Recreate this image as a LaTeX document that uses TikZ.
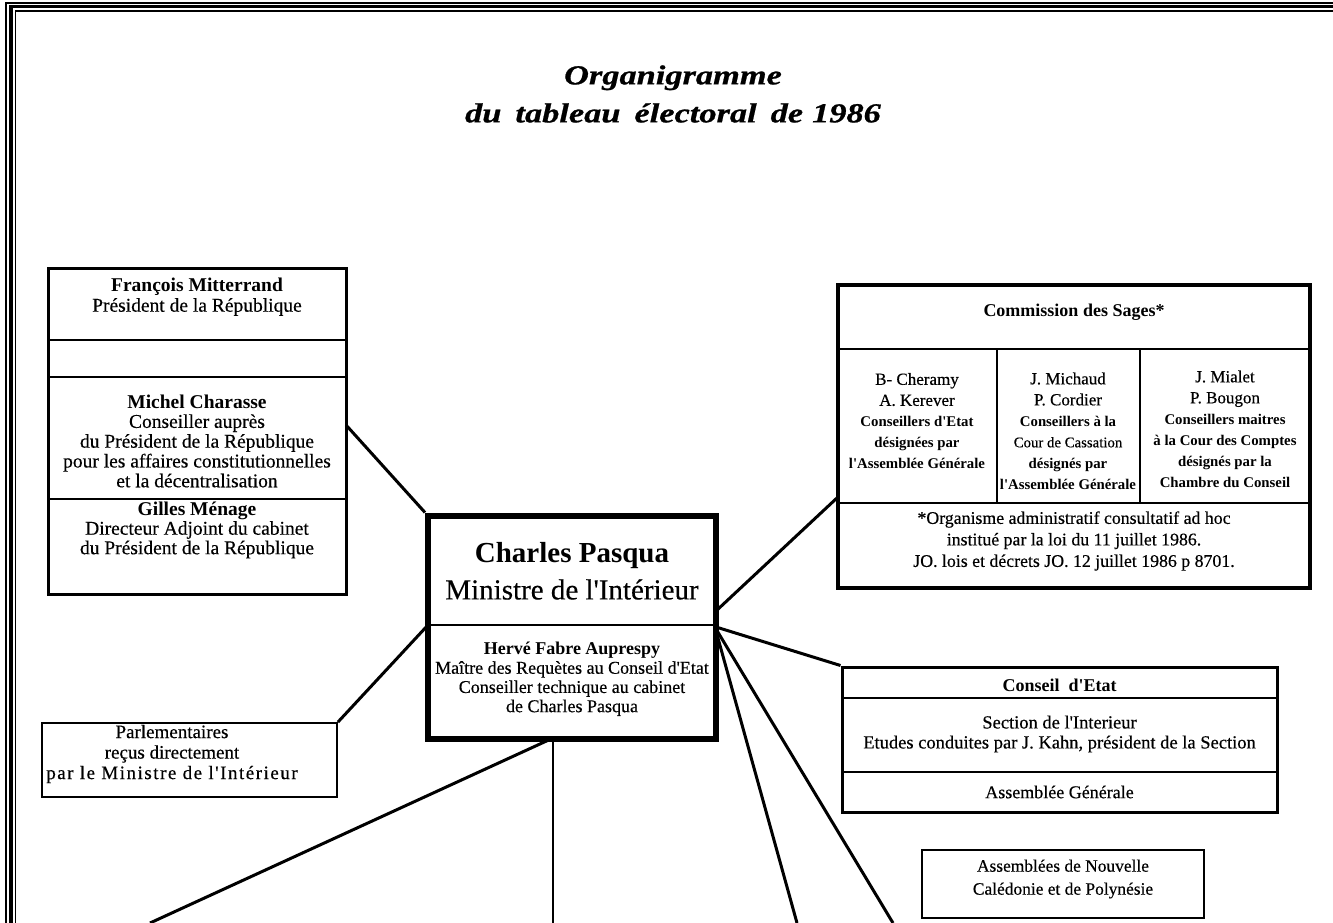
\documentclass[tikz,border=0pt]{standalone}
\usepackage{fontspec}
\setmainfont{Liberation Serif}
\newfontfamily\bodyfont{Liberation Serif}[UprightFeatures={FakeBold=0.4}]
\newfontfamily\titlefont{Liberation Serif}[FakeStretch=1.25,BoldItalicFeatures={FakeBold=0.8}]
\newcommand{\fs}[2]{\bodyfont\fontsize{#1}{#2}\selectfont}
\newcommand{\nmf}{\fs{17}{21}\mdseries}
\newcommand{\sbf}{\fs{14.8}{21}\bfseries}
\newcommand{\smf}{\fs{14.8}{21}\mdseries}
\begin{document}
\begin{tikzpicture}[x=1pt,y=-1pt,
  boxnode/.style={draw, inner sep=0, fill=none},
  div/.style={line width=2.2},
  con/.style={line width=3},
  t/.style={align=center, inner sep=0, font=\fs{18}{21}},
  tb/.style={align=center, inner sep=0, font=\fs{18}{21}\bfseries},
]
\useasboundingbox (0,0) rectangle (1333,923);
\clip (0,0) rectangle (1333,923);
% frame
\draw[line width=1.2] (6,3) rectangle (1360,950);
\draw[line width=3.5] (11,6.5) rectangle (1360,950);
\draw[line width=1.2] (15.5,11) rectangle (1360,950);

% title
\node[align=center, inner sep=0, font=\titlefont\fontsize{27.5}{38}\selectfont\bfseries\itshape] (title) at (673,94)
  {Organigramme\\du\hspace{14pt}tableau\hspace{14pt}électoral\hspace{14pt}de\hspace{9pt}1986};

% left box
\node[boxnode, line width=3, minimum width=298, minimum height=326] (lbox) at (197,431) {};
\draw[div] (48,340) -- (346,340);
\draw[div] (48,377) -- (346,377);
\draw[div] (48,499) -- (346,499);
\node[t, font=\fs{19.5}{20}] (mitt) at (197,297) {\textbf{François Mitterrand}\\Président de la République};
\node[t, font=\fs{19.5}{19.8}] (chara) at (197,441) {\textbf{Michel Charasse}\\Conseiller auprès\\du Président de la République\\pour les affaires constitutionnelles\\et la décentralisation};
\node[t, font=\fs{19.5}{19.5}] (gill) at (197,530) {\textbf{Gilles Ménage}\\Directeur Adjoint du cabinet\\du Président de la République};

% center box
\node[boxnode, line width=6, minimum width=288, minimum height=223] (cbox) at (572,627) {};
\draw[div] (428,625) -- (716,625);
\node[align=center, inner sep=0, font=\fs{29}{37}] (cp) at (572,571) {\textbf{Charles Pasqua}\\Ministre de l'Intérieur};
\node[t, font=\fs{18}{19.2}] (hf) at (572,679) {\textbf{Hervé Fabre Auprespy}\\Maître des Requètes au Conseil d'Etat\\Conseiller technique au cabinet\\de Charles Pasqua};

% commission box
\node[boxnode, line width=4, minimum width=472, minimum height=303] (com) at (1074,436.5) {};
\draw[div] (838,349) -- (1310,349);
\draw[div] (838,503) -- (1310,503);
\draw[div] (997,349) -- (997,503);
\draw[div] (1140,349) -- (1140,503);
\node[tb] (comt) at (1074,312) {Commission des Sages*};
\node[t] (col1) at (917,421) {{\nmf B- Cheramy}\\{\nmf A. Kerever}\\{\sbf Conseillers d'Etat}\\{\sbf désignées par}\\{\sbf l'Assemblée Générale}};
\node[t] (col2) at (1068,431) {{\nmf J. Michaud}\\{\nmf P. Cordier}\\{\sbf Conseillers à la}\\{\smf Cour de Cassation}\\{\sbf désignés par}\\{\sbf l'Assemblée Générale}};
\node[t] (col3) at (1225,429) {{\nmf J. Mialet}\\{\nmf P. Bougon}\\{\sbf Conseillers maitres}\\{\sbf à la Cour des Comptes}\\{\sbf désignés par la}\\{\sbf Chambre du Conseil}};
\node[t, font=\fs{17.8}{21.5}] (note) at (1074,541) {*Organisme administratif consultatif ad hoc\\institué par la loi du 11 juillet 1986.\\JO. lois et décrets JO. 12 juillet 1986 p 8701.};

% conseil d'Etat box
\node[boxnode, line width=3, minimum width=435, minimum height=145] (ce) at (1059.5,739.5) {};
\draw[div] (842,698) -- (1277,698);
\draw[div] (842,772) -- (1277,772);
\node[tb] (cet) at (1059.5,685) {Conseil\ \ d'Etat};
\node[t, font=\fs{18.5}{20}] (cesec) at (1059.5,734) {Section de l'Interieur\\Etudes conduites par J. Kahn, président de la Section};
\node[t] (ceag) at (1059.5,792) {Assemblée Générale};

% parlementaires
\node[boxnode, line width=1.8, minimum width=295, minimum height=74] (parl) at (189.5,760) {};
\node[t, font=\fs{19}{20.5}] (parlt) at (172,754) {Parlementaires\\reçus directement\\{\addfontfeatures{LetterSpace=8}par le Ministre de l'Intérieur}};

% assemblees
\node[boxnode, line width=1.8, minimum width=282, minimum height=68] (asm) at (1063,884) {};
\node[t, font=\fs{17.4}{23}] (asmt) at (1063,879) {Assemblées de Nouvelle\\Calédonie et de Polynésie};

% connector points
\coordinate (lbR) at (346,425);
\coordinate (cdivL) at (428,625);
\coordinate (cR1) at (716,611);
\coordinate (cR2) at (716,627);
\coordinate (cR3) at (716,631);
\coordinate (cR4) at (716,629);
\coordinate (comL) at (838,497);
\coordinate (cB) at (553,738);
\coordinate (e1) at (150,923);
\coordinate (e2) at (553,923);
\coordinate (e3) at (797,923);
\coordinate (e4) at (893,923);

\draw[con] (lbR) -- (cbox.north west);
\draw[con] (parl.north east) -- (cdivL);
\draw[con] (cR1) -- (comL);
\draw[con] (cR2) -- (ce.north west);
\draw[con] (cR3) -- (e3);
\draw[con] (cR4) -- (e4);
\draw[con] (cB) -- (e1);
\draw[line width=2.2] (cB) -- (e2);
\end{tikzpicture}
\end{document}
